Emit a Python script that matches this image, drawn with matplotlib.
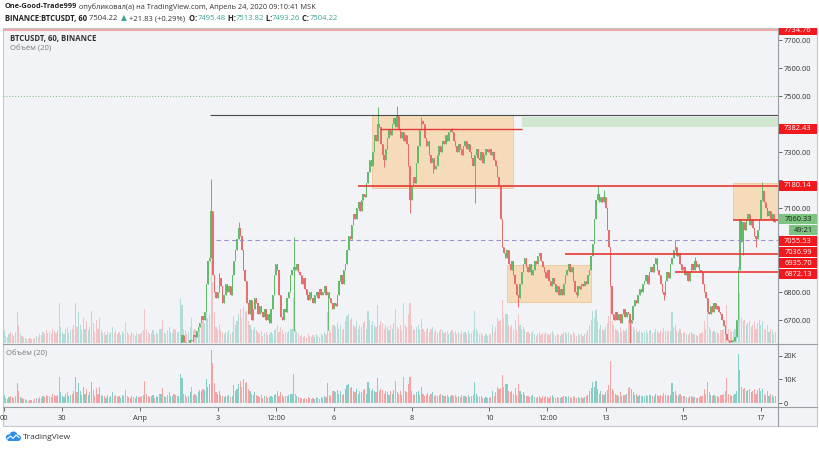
import matplotlib
matplotlib.use('Agg')
import matplotlib.pyplot as plt
from matplotlib.patches import Rectangle, Circle
from matplotlib.lines import Line2D
from matplotlib.transforms import IdentityTransform
from matplotlib import ticker
import numpy as np

plt.rcParams['font.family'] = ['Open Sans', 'DejaVu Sans']

W, H = 820, 449

# hourly candles, hours counted from Apr 1 00:00; first candle is Mar 28 10:00
first_hour = -86
closes_by_day = [
    [6250, 6230, 6260, 6240, 6270, 6300, 6280, 6250, 6270, 6240, 6260, 6230, 6250, 6240],  # Mar 28
    [6260, 6230, 6240, 6210, 6190, 6220, 6200, 6180, 6210, 6190, 6170, 6150, 6170, 6140, 6120, 6100, 6080, 6050, 5980, 5950, 5900, 5950, 5880, 5900],
    [5900, 5950, 6000, 5980, 6050, 6100, 6080, 6150, 6200, 6180, 6250, 6300, 6280, 6330, 6400, 6380, 6420, 6450, 6490, 6440, 6430, 6410, 6380, 6400],
    [6420, 6440, 6410, 6430, 6460, 6450, 6480, 6500, 6470, 6450, 6470, 6440, 6460, 6480, 6520, 6500, 6470, 6450, 6430, 6450, 6420, 6400, 6430, 6410],
    [6400, 6370, 6300, 6250, 6200, 6150, 6180, 6220, 6260, 6230, 6280, 6320, 6300, 6400, 6350, 6380, 6430, 6480, 6450, 6500, 6550, 6520, 6580, 6560],  # Apr 1
    [6590, 6600, 6645, 6620, 6612, 6605, 6618, 6630, 6625, 6645, 6640, 6660, 6675, 6690, 6715, 6700, 6730, 6830, 6910, 6920, 7090, 6860, 6800, 6780],
    [6800, 6850, 6820, 6760, 6790, 6830, 6800, 6820, 6790, 6860, 6910, 6950, 6990, 7030, 7000, 6950, 6880, 6840, 6760, 6720, 6770, 6700, 6740, 6780],
    [6760, 6720, 6750, 6730, 6710, 6740, 6700, 6720, 6690, 6740, 6790, 6860, 6900, 6880, 6790, 6710, 6700, 6740, 6730, 6780, 6800, 6860, 6880, 6890],
    [6880, 6900, 6870, 6860, 6830, 6850, 6810, 6790, 6770, 6800, 6780, 6760, 6790, 6800, 6780, 6810, 6790, 6800, 6820, 6790, 6800, 6780, 6760, 6740],
    [6760, 6750, 6790, 6840, 6860, 6830, 6880, 6900, 6950, 7000, 6990, 7040, 7080, 7060, 7100, 7120, 7090, 7130, 7150, 7140, 7190, 7230, 7270, 7250],
    [7300, 7360, 7340, 7400, 7390, 7330, 7290, 7270, 7310, 7350, 7380, 7360, 7400, 7420, 7390, 7430, 7380, 7350, 7370, 7340, 7360, 7330, 7250, 7130],
    [7180, 7210, 7190, 7260, 7320, 7380, 7410, 7400, 7350, 7320, 7340, 7290, 7260, 7280, 7240, 7250, 7290, 7320, 7300, 7340, 7330, 7360, 7340, 7370],
    [7380, 7370, 7340, 7320, 7300, 7330, 7310, 7290, 7320, 7340, 7310, 7330, 7300, 7280, 7250, 7290, 7310, 7280, 7270, 7300, 7260, 7290, 7310, 7300],
    [7310, 7290, 7300, 7270, 7250, 7210, 7180, 7060, 6960, 6940, 6920, 6950, 6900, 6880, 6910, 6860, 6830, 6790, 6780, 6830, 6870, 6900, 6920, 6890],  # Apr 10
    [6870, 6900, 6860, 6880, 6910, 6900, 6930, 6940, 6910, 6890, 6870, 6850, 6880, 6840, 6820, 6850, 6830, 6800, 6820, 6790, 6810, 6790, 6830, 6860],
    [6880, 6900, 6870, 6890, 6840, 6800, 6790, 6820, 6810, 6830, 6820, 6840, 6830, 6860, 6880, 6930, 6970, 7060, 7130, 7150, 7120, 7140, 7120, 7140],
    [7100, 7020, 6960, 6820, 6720, 6700, 6730, 6700, 6720, 6690, 6720, 6740, 6710, 6730, 6720, 6690, 6700, 6750, 6770, 6760, 6790, 6810, 6800, 6830],
    [6840, 6860, 6830, 6870, 6890, 6870, 6900, 6920, 6880, 6860, 6830, 6800, 6790, 6840, 6870, 6850, 6900, 6920, 6950, 6960, 6930, 6940, 6900, 6880],
    [6890, 6860, 6870, 6840, 6870, 6900, 6880, 6910, 6890, 6900, 6880, 6870, 6830, 6800, 6780, 6730, 6720, 6750, 6730, 6760, 6740, 6750, 6730, 6720],
    [6700, 6680, 6650, 6630, 6625, 6620, 6630, 6625, 6640, 6700, 6880, 7060, 6980, 7050, 7020, 7060, 7080, 7040, 7060, 7030, 7000, 6990, 7020, 7060],
    [7130, 7160, 7120, 7100, 7070, 7090, 7060, 7080, 7050, 7060.33],  # Apr 17
]
# volume in thousands
vols_by_day = [
    [3.0, 2.2, 3.5, 2.0, 1.8, 2.5, 3.0, 2.4, 2.0, 3.0, 8.6, 5.0, 2.5, 2.0],
    [1.8, 1.5, 1.2, 1.0, 1.4, 1.2, 1.0, 1.5, 2.0, 1.8, 2.5, 2.2, 3.0, 2.6, 3.5, 2.8, 3.0, 2.4, 4.0, 3.2, 2.8, 3.5, 11.0, 4.5],
    [3.0, 2.5, 3.8, 4.5, 2.8, 3.5, 4.0, 5.0, 11.0, 4.5, 8.5, 5.0, 3.5, 7.0, 4.0, 6.0, 3.5, 4.5, 9.0, 5.5, 3.0, 6.5, 4.0, 7.0],
    [3.5, 2.8, 3.0, 2.2, 3.2, 2.5, 3.0, 4.5, 2.8, 3.5, 2.6, 3.0, 2.2, 3.4, 2.8, 5.7, 3.0, 2.5, 2.2, 3.0, 2.4, 2.0, 2.8, 2.5],
    [2.5, 3.0, 3.5, 9.5, 4.0, 3.0, 2.5, 2.8, 3.5, 2.2, 3.0, 2.6, 3.8, 4.0, 6.4, 3.0, 2.5, 3.5, 4.5, 3.0, 2.8, 4.0, 3.5, 3.0],
    [3.0, 12.4, 10.6, 4.0, 3.5, 2.5, 3.0, 4.5, 7.0, 3.5, 4.0, 3.0, 4.5, 5.5, 5.0, 6.0, 5.5, 10.0, 7.0, 8.0, 22.7, 17.0, 8.5, 4.5],
    [4.0, 5.0, 3.5, 3.0, 2.5, 3.0, 2.8, 3.5, 2.5, 3.0, 7.5, 5.0, 6.0, 8.0, 9.5, 7.0, 10.0, 8.5, 9.0, 6.0, 5.0, 4.0, 3.5, 4.5],
    [3.5, 3.0, 2.5, 3.2, 2.0, 2.8, 3.0, 2.2, 2.5, 3.0, 2.4, 3.5, 4.0, 5.0, 3.0, 4.5, 3.5, 2.5, 3.0, 2.8, 3.2, 3.8, 4.0, 12.4],
    [4.0, 3.0, 2.5, 2.0, 2.2, 1.8, 2.0, 1.5, 2.5, 2.0, 1.8, 2.2, 1.6, 2.4, 2.0, 1.8, 2.5, 2.2, 3.0, 2.6, 8.5, 3.5, 3.0, 5.0],
    [5.0, 4.5, 5.5, 4.0, 5.0, 3.5, 4.0, 6.0, 7.5, 8.0, 6.5, 7.0, 5.0, 4.5, 6.0, 4.0, 5.0, 4.5, 5.5, 6.0, 4.0, 9.0, 6.5, 5.0],
    [6.0, 5.0, 4.5, 10.6, 5.0, 6.0, 5.5, 4.0, 5.0, 4.5, 3.5, 5.0, 4.0, 5.5, 9.4, 4.5, 4.0, 5.0, 3.5, 11.0, 5.0, 4.5, 8.0, 11.0],
    [5.0, 4.0, 3.5, 4.5, 5.0, 3.5, 6.6, 4.0, 3.0, 3.5, 4.2, 3.0, 3.8, 4.5, 3.0, 3.6, 2.8, 3.2, 4.0, 3.5, 2.8, 3.0, 3.4, 2.6],
    [3.0, 3.5, 2.8, 3.2, 2.5, 3.0, 2.6, 3.4, 2.8, 3.0, 2.4, 3.2, 2.6, 2.8, 3.5, 9.0, 4.0, 3.0, 2.5, 2.8, 2.2, 2.0, 2.4, 2.0],
    [2.2, 2.5, 5.0, 3.0, 4.5, 7.0, 6.0, 6.5, 12.0, 7.0, 8.0, 8.0, 5.0, 4.5, 5.0, 4.0, 6.5, 3.5, 8.0, 5.0, 4.0, 4.5, 3.5, 3.0],
    [3.0, 2.5, 2.8, 3.2, 2.4, 2.0, 2.6, 3.0, 2.2, 2.8, 2.4, 3.0, 2.6, 2.2, 2.8, 3.4, 2.4, 2.0, 2.6, 2.2, 2.0, 2.4, 2.8, 3.0],
    [2.6, 3.0, 2.4, 2.2, 3.0, 2.5, 2.0, 2.4, 2.2, 2.6, 2.0, 2.4, 2.8, 3.5, 5.0, 6.5, 9.0, 7.0, 9.2, 6.0, 4.0, 5.0, 4.0, 3.5],
    [4.5, 5.5, 7.6, 17.8, 6.0, 5.0, 4.0, 3.5, 3.0, 4.5, 3.0, 3.5, 3.2, 4.0, 6.5, 7.0, 6.0, 4.5, 3.5, 4.0, 3.0, 3.5, 3.0, 2.8],
    [3.0, 3.5, 2.8, 3.2, 3.6, 2.8, 3.0, 4.0, 3.2, 2.8, 3.5, 3.0, 4.2, 3.4, 3.0, 3.6, 3.2, 8.5, 4.5, 5.0, 3.5, 3.0, 3.8, 2.8],
    [2.8, 3.0, 2.5, 2.2, 2.8, 3.0, 2.4, 2.6, 2.2, 2.0, 2.4, 2.8, 3.0, 6.0, 4.0, 9.0, 4.5, 3.5, 3.0, 3.2, 2.8, 3.0, 2.6, 3.5],
    [3.5, 4.0, 5.0, 10.5, 4.0, 3.5, 3.0, 3.2, 4.0, 5.0, 21.0, 14.0, 7.0, 6.0, 6.5, 5.0, 5.5, 6.0, 4.5, 5.0, 6.0, 4.0, 5.5, 6.5],
    [5.0, 6.0, 4.0, 3.5, 5.0, 3.0, 4.0, 3.5, 2.5, 3.0],
]
# long wicks (hour: price)
high_wicks = {44: 7204, 49: 6868, 61: 7050, 95: 6996, 147: 7460, 159: 7464, 174: 7425,
              193: 7386, 283: 7182, 287: 7164, 331: 6985, 343: 6925, 385: 7193}
low_wicks = {95: 6660, 116: 6664, 151: 7246, 167: 7082, 181: 7225, 207: 7118, 234: 6746,
             270: 6782, 303: 6600, 324: 6770, 364: 6590, 373: 6932, 381: 6960}

tick_hours = [-84, -48, 0, 48, 84, 120, 168, 216, 252, 288, 336, 384]
tick_labels = ['00', '30', 'Апр', '3', '12:00', '6', '8', '10', '12:00', '13', '15', '17']
price_ticks = [6700, 6800, 6900, 7000, 7100, 7200, 7300, 7400, 7500, 7600, 7700]
vol_ticks = [0, 10, 20]
vol_tick_labels = ['0', '10K', '20K']

# drawings on the chart
zone_start = [143.5, 227.0, 366.8]
zone_end = [230.7, 279.0, 400.0]
zone_low = [7171, 6764, 7060]
zone_high = [7432, 6896, 7189]
green_zone = (236.3, 400.0, 7390, 7425)
ray_start = [134.8, 262.9, 331.0, 366.8]
ray_price = [7180.14, 6935.70, 6872.13, 7055.53]
seg_price, seg_start, seg_end = 7382.43, 148.5, 236.3
black_price, black_start = 7432, 43.3
dashed_price, dashed_start = 6984, 47.0
top_line_price = 7734.76
last_price_line = 7500

axis_labels = [7734.76, 7382.43, 7180.14, 7060.33, 7055.53, 7036.99, 6935.70, 6872.13]
current_price = 7060.33
countdown = '49:21'

up_col, down_col = '#62bb68', '#e86c6c'
vup_col, vdown_col = '#86cdc4', '#f3a5a5'
red_lbl = '#f2191c'
bg = '#f2f3f7'
fs = 5.4


def fx(px):
    return px / W


def fy(py):
    return 1 - py / H


closes = np.concatenate([np.array(d, float) for d in closes_by_day])
vols = np.concatenate([np.array(d, float) for d in vols_by_day])
hours = first_hour + np.arange(len(closes))
opens = np.r_[closes[0], closes[:-1]]
highs = np.maximum(opens, closes)
lows = np.minimum(opens, closes)
for h, p in high_wicks.items():
    highs[h - first_hour] = p
for h, p in low_wicks.items():
    lows[h - first_hour] = p
up = closes >= opens
ccol = np.where(up, up_col, down_col)
vcol = np.where(up, vup_col, vdown_col)

fig = plt.figure(figsize=(W / 100, H / 100), dpi=100)
fig.patch.set_facecolor('white')

frame = Rectangle((fx(3), fy(426)), fx(817) - fx(3), fy(28) - fy(426), transform=fig.transFigure,
                  facecolor=bg, edgecolor='#c6c8ce', lw=0.8, zorder=-1)
fig.add_artist(frame)

ax = fig.add_axes([fx(3), fy(343), fx(778) - fx(3), fy(28) - fy(343)])
vax = fig.add_axes([fx(3), fy(407), fx(778) - fx(3), fy(344) - fy(407)])
for a in (ax, vax):
    a.set_facecolor('none')
    for s in a.spines.values():
        s.set_visible(False)
    a.set_xlim(-84.74, 394.6)

ax.set_ylim(6617.9, 7742.9)
ylo, yhi = ax.get_ylim()

# volume overlay at the bottom of the price pane
ax.bar(hours, vols * (yhi - ylo) * 3.6 / 315, bottom=ylo, width=0.7, color=vcol, alpha=0.6, lw=0, zorder=1)

for t0, t1, lo, hi in zip(zone_start, zone_end, zone_low, zone_high):
    ax.add_patch(Rectangle((t0, lo), t1 - t0, hi - lo, facecolor='#f7d7b1', edgecolor='#efbf8c',
                           lw=0.6, alpha=0.85, zorder=2))
g0, g1, glo, ghi = green_zone
ax.add_patch(Rectangle((g0, glo), g1 - g0, ghi - glo, facecolor='#cfe7cf', lw=0, zorder=2))

ax.vlines(hours, lows, highs, colors=ccol, lw=0.7, zorder=3)
ax.bar(hours, np.maximum(np.abs(closes - opens), 4), bottom=np.minimum(opens, closes), width=0.82,
       color=ccol, lw=0, zorder=3)

ax.axhline(top_line_price, color='#f09a9a', lw=1.2, zorder=4)
ax.axhline(last_price_line, color='#79b77c', lw=0.7, ls=(0, (1, 2)), zorder=4)
ax.hlines(black_price, black_start, 400, color='#4a4a4a', lw=0.8, zorder=4)
ax.hlines(dashed_price, dashed_start, 400, color='#9d8fd0', lw=0.8, ls=(0, (4, 3)), zorder=4)
ax.hlines(seg_price, seg_start, seg_end, color='#e53935', lw=1.0, zorder=4)
for t0, p in zip(ray_start, ray_price):
    ax.hlines(p, t0, 400, color='#e53935', lw=1.2, zorder=4)

# price scale labels, stacked so they do not overlap
lbl_h = 11
items = []
for p in sorted(axis_labels, reverse=True):
    items.append((p, '{:.2f}'.format(p), p == current_price))
    if p == current_price:
        items.append((None, countdown, True))
placed = []
prev = -100
for p, s, green in items:
    if p is None:
        y = prev + lbl_h
    else:
        y = H - ax.transData.transform((0, p))[1]
        if y - prev < lbl_h:
            y = prev + lbl_h
    prev = y
    placed.append((p, s, green, y))

# tick labels hidden behind a label box are left out
box_ys = [y for _, _, _, y in placed]
shown_ticks = [p for p in price_ticks
               if min(abs(H - ax.transData.transform((0, p))[1] - y) for y in box_ys) > 7]

ax.set_xticks([])
ax.yaxis.tick_right()
ax.set_yticks(price_ticks)
ax.set_yticklabels(['{:.2f}'.format(p) if p in shown_ticks else '' for p in price_ticks])
ax.tick_params(axis='y', length=3, width=0.6, color='#555555', pad=1.2, labelsize=fs, labelcolor='#333333')

vax.bar(hours, vols, width=0.7, color=vcol, lw=0)
vax.set_ylim(-1.7, 25.1)
vax.yaxis.tick_right()
vax.set_yticks(vol_ticks)
vax.set_yticklabels(vol_tick_labels)
vax.tick_params(axis='y', length=3, width=0.6, color='#555555', pad=1.2, labelsize=fs, labelcolor='#333333')
vax.set_xticks(tick_hours)
vax.set_xticklabels(tick_labels)
vax.tick_params(axis='x', length=3, width=0.6, color='#555555', pad=2.5, labelsize=fs, labelcolor='#333333')

# pane borders
for x0, y0, x1, y1 in [(3, 343.5, 817, 343.5), (3, 407, 817, 407), (778, 28, 778, 426)]:
    fig.add_artist(Line2D([fx(x0), fx(x1)], [fy(y0), fy(y1)], transform=fig.transFigure,
                          color='#9a9ca2', lw=0.8, zorder=3))

for p, s, green, y in placed:
    x0 = 789 if p is None else 779
    face = '#7cc47f' if green else red_lbl
    r = Rectangle((fx(x0), fy(y + lbl_h / 2 - 0.5)), fx(817) - fx(x0), (lbl_h - 1) / H,
                  transform=fig.transFigure, facecolor=face, lw=0, zorder=5)
    r.set_clip_path(frame)
    fig.add_artist(r)
    t = fig.text(fx((x0 + 817) / 2), fy(y), s, ha='center', va='center', fontsize=fs,
                 color='#1c1c1c' if green else 'white', zorder=6)
    t.set_clip_path(frame)

# pane titles
fig.text(fx(10), fy(38), 'BTCUSDT, 60, BINANCE', fontsize=fs + 0.2, fontweight='bold', color='#333333', va='center')
fig.text(fx(10), fy(49), 'Объём (20)', fontsize=fs + 0.2, color='#7a7a7a', va='center')
fig.text(fx(6), fy(354), 'Объём (20)', fontsize=fs + 0.2, color='#7a7a7a', va='center')

# header
renderer = fig.canvas.get_renderer()
teal = '#3aa597'


def pieces(x_px, y_px, parts, size):
    x = fx(x_px)
    for s, color, weight in parts:
        t = fig.text(x, fy(y_px), s, color=color, fontweight=weight, fontsize=size, va='center')
        x = t.get_window_extent(renderer=renderer).x1 / W


pieces(5, 7, [('One-Good-Trade999', '#222222', 'bold'),
              (' опубликовал(а) на TradingView.com, Апрель 24, 2020 09:10:41 MSK', '#333333', 'normal')], 5.3)
pieces(5, 18.5, [('BINANCE:BTCUSDT, 60', '#222222', 'bold'), (' 7504.22 ', '#333333', 'normal'),
                 (' ▲', teal, 'normal'), (' +21.83 (+0.29%) ', '#333333', 'normal'),
                 (' O:', '#222222', 'bold'), ('7495.48', teal, 'normal'),
                 (' H:', '#222222', 'bold'), ('7513.82', teal, 'normal'),
                 (' L:', '#222222', 'bold'), ('7493.26', teal, 'normal'),
                 (' C:', '#222222', 'bold'), ('7504.22', teal, 'normal')], 5.5)

# TradingView logo
blue = '#2e8fe8'
for cx, cy, rad in [(9, 437.5, 3.2), (13.5, 435.5, 4.0), (18, 438, 3.0)]:
    fig.add_artist(Circle((cx, H - cy), rad, transform=IdentityTransform(), facecolor=blue, lw=0))
fig.add_artist(Rectangle((8, H - 441), 10, 3.5, transform=IdentityTransform(), facecolor=blue, lw=0))
fig.add_artist(Line2D([7, 10.5, 13, 16, 19], [H - 439, H - 436, H - 438.5, H - 435, H - 437.5],
                      transform=IdentityTransform(), color='white', lw=0.8))
fig.text(fx(23), fy(437.5), 'TradingView', fontsize=fs + 0.6, color='#333333', va='center')

fig.savefig('out.png', dpi=100, facecolor='white')
